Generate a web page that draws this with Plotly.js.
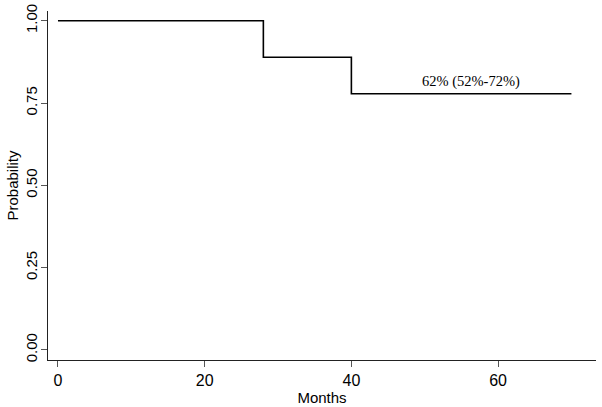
<!DOCTYPE html>
<html>
<head>
<meta charset="utf-8">
<script src="https://cdn.plot.ly/plotly-3.0.1.min.js"></script>
<style>html,body{margin:0;padding:0;background:#fff;}#chart{width:602px;height:407px;}</style>
</head>
<body>
<div id="chart"></div>
<script>
// Kaplan-Meier step points (months, survival probability)
const months = [0, 28, 40, 70];
const probability = [1.0, 0.889, 0.778, 0.778];
const xTicks = [0, 20, 40, 60];
const yTicks = [0, 0.25, 0.5, 0.75, 1.0];
const yTickLabels = ["0.00", "0.25", "0.50", "0.75", "1.00"];
const annotationText = "62% (52%-72%)";
const annotationX = 56.3;
const annotationY = 0.814;

const trace = {
  x: months,
  y: probability,
  type: 'scatter',
  mode: 'lines',
  line: {shape: 'hv', color: '#000', width: 1.6},
  hoverinfo: 'skip'
};

const layout = {
  width: 602,
  height: 407,
  margin: {l: 48, r: 6, t: 11, b: 47},
  paper_bgcolor: '#fff',
  plot_bgcolor: '#fff',
  showlegend: false,
  font: {family: 'Liberation Sans, Arial, sans-serif', color: '#000', size: 15},
  xaxis: {
    range: [-1.36, 73.35],
    tickvals: xTicks,
    ticktext: xTicks.map(String),
    ticks: 'outside',
    ticklen: 6,
    tickcolor: '#555',
    tickwidth: 1,
    showline: true,
    linecolor: '#222',
    linewidth: 1,
    showgrid: false,
    zeroline: false,
    tickfont: {size: 16},
    title: {text: 'Months', font: {size: 15}, standoff: 2}
  },
  yaxis: {
    range: [-0.0304, 1.0295],
    tickvals: yTicks,
    ticktext: yTickLabels,
    tickangle: -90,
    ticks: 'outside',
    ticklen: 6,
    tickcolor: '#555',
    tickwidth: 1,
    ticklabelstandoff: -2,
    showline: true,
    linecolor: '#222',
    linewidth: 1,
    showgrid: false,
    zeroline: false,
    tickfont: {size: 15},
    title: {text: 'Probability', font: {size: 15}, standoff: 0}
  },
  annotations: [{
    x: annotationX,
    y: annotationY,
    xref: 'x',
    yref: 'y',
    text: annotationText,
    showarrow: false,
    font: {family: 'Liberation Serif, Times New Roman, serif', size: 14.5, color: '#000'}
  }]
};

Plotly.newPlot('chart', [trace], layout, {displayModeBar: false, staticPlot: true});
</script>
</body>
</html>
